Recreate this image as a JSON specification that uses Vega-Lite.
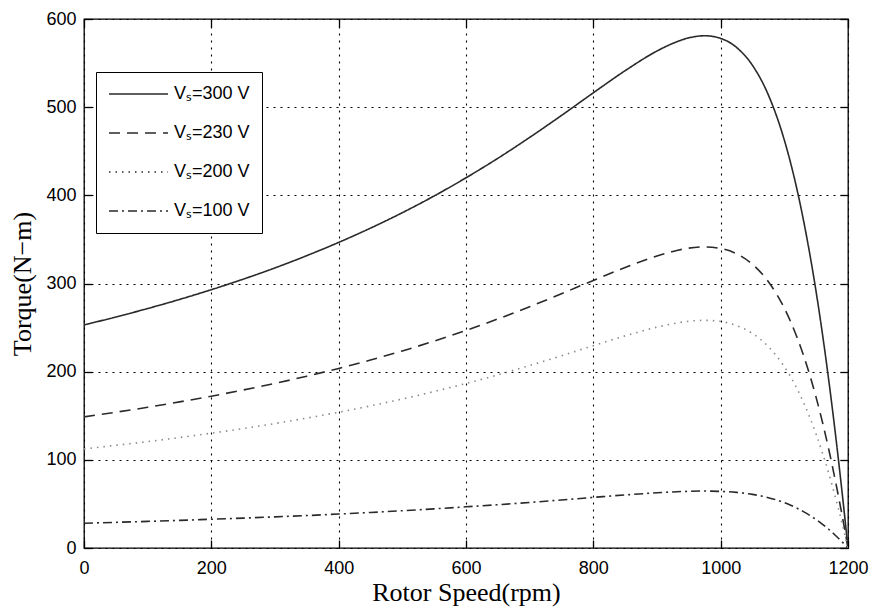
{
  "$schema": "https://vega.github.io/schema/vega-lite/v6.json",
  "width": 764,
  "height": 529,
  "autosize": "none",
  "padding": {"left": 84, "top": 19, "right": 24, "bottom": 60},
  "background": "white",
  "config": {
    "view": {"stroke": "black", "strokeWidth": 1.3},
    "axis": {
      "labelFont": "Liberation Sans",
      "labelFontSize": 18,
      "labelColor": "black",
      "titleFont": "Liberation Serif",
      "titleFontSize": 26,
      "titleFontWeight": "normal",
      "titleColor": "black",
      "tickColor": "black",
      "tickWidth": 1.3,
      "tickSize": -8,
      "domain": false,
      "gridColor": "black",
      "gridDash": [2, 5],
      "gridWidth": 1.1,
      "gridOpacity": 1
    },
    "legend": {
      "orient": "none",
      "legendX": 12,
      "legendY": 53,
      "strokeColor": "black",
      "fillColor": "white",
      "padding": 12,
      "symbolType": "stroke",
      "symbolSize": 3481,
      "symbolStrokeWidth": 1.6,
      "clipHeight": 20,
      "rowPadding": 19,
      "labelOffset": 5,
      "labelFont": "Liberation Sans",
      "labelFontSize": 18,
      "labelColor": "black",
      "labelLimit": 200
    }
  },
  "datasets": {
    "curves": [
      {"series": "Vₛ=300 V", "speed": 0, "torque": 253.0},
      {"series": "Vₛ=300 V", "speed": 50, "torque": 262.0},
      {"series": "Vₛ=300 V", "speed": 100, "torque": 271.6},
      {"series": "Vₛ=300 V", "speed": 150, "torque": 281.9},
      {"series": "Vₛ=300 V", "speed": 200, "torque": 293.0},
      {"series": "Vₛ=300 V", "speed": 250, "torque": 304.9},
      {"series": "Vₛ=300 V", "speed": 300, "torque": 317.7},
      {"series": "Vₛ=300 V", "speed": 350, "torque": 331.6},
      {"series": "Vₛ=300 V", "speed": 400, "torque": 346.6},
      {"series": "Vₛ=300 V", "speed": 450, "torque": 362.8},
      {"series": "Vₛ=300 V", "speed": 500, "torque": 380.3},
      {"series": "Vₛ=300 V", "speed": 550, "torque": 399.3},
      {"series": "Vₛ=300 V", "speed": 600, "torque": 419.9},
      {"series": "Vₛ=300 V", "speed": 650, "torque": 442.0},
      {"series": "Vₛ=300 V", "speed": 700, "torque": 465.7},
      {"series": "Vₛ=300 V", "speed": 750, "torque": 490.6},
      {"series": "Vₛ=300 V", "speed": 800, "torque": 516.3},
      {"series": "Vₛ=300 V", "speed": 850, "torque": 541.4},
      {"series": "Vₛ=300 V", "speed": 900, "torque": 563.7},
      {"series": "Vₛ=300 V", "speed": 925, "torque": 572.4},
      {"series": "Vₛ=300 V", "speed": 950, "torque": 578.6},
      {"series": "Vₛ=300 V", "speed": 975, "torque": 581.0},
      {"series": "Vₛ=300 V", "speed": 1000, "torque": 578.0},
      {"series": "Vₛ=300 V", "speed": 1025, "torque": 567.7},
      {"series": "Vₛ=300 V", "speed": 1050, "torque": 547.4},
      {"series": "Vₛ=300 V", "speed": 1075, "torque": 513.7},
      {"series": "Vₛ=300 V", "speed": 1100, "torque": 462.7},
      {"series": "Vₛ=300 V", "speed": 1110, "torque": 436.4},
      {"series": "Vₛ=300 V", "speed": 1120, "torque": 406.3},
      {"series": "Vₛ=300 V", "speed": 1130, "torque": 372.0},
      {"series": "Vₛ=300 V", "speed": 1140, "torque": 333.4},
      {"series": "Vₛ=300 V", "speed": 1150, "torque": 290.2},
      {"series": "Vₛ=300 V", "speed": 1160, "torque": 242.1},
      {"series": "Vₛ=300 V", "speed": 1170, "torque": 189.0},
      {"series": "Vₛ=300 V", "speed": 1175, "torque": 160.6},
      {"series": "Vₛ=300 V", "speed": 1180, "torque": 130.9},
      {"series": "Vₛ=300 V", "speed": 1185, "torque": 100.0},
      {"series": "Vₛ=300 V", "speed": 1190, "torque": 67.8},
      {"series": "Vₛ=300 V", "speed": 1195, "torque": 34.5},
      {"series": "Vₛ=300 V", "speed": 1200, "torque": 0},

      {"series": "Vₛ=230 V", "speed": 0, "torque": 148.7},
      {"series": "Vₛ=230 V", "speed": 50, "torque": 154.0},
      {"series": "Vₛ=230 V", "speed": 100, "torque": 159.6},
      {"series": "Vₛ=230 V", "speed": 150, "torque": 165.7},
      {"series": "Vₛ=230 V", "speed": 200, "torque": 172.2},
      {"series": "Vₛ=230 V", "speed": 250, "torque": 179.2},
      {"series": "Vₛ=230 V", "speed": 300, "torque": 186.7},
      {"series": "Vₛ=230 V", "speed": 350, "torque": 194.9},
      {"series": "Vₛ=230 V", "speed": 400, "torque": 203.7},
      {"series": "Vₛ=230 V", "speed": 450, "torque": 213.2},
      {"series": "Vₛ=230 V", "speed": 500, "torque": 223.5},
      {"series": "Vₛ=230 V", "speed": 550, "torque": 234.7},
      {"series": "Vₛ=230 V", "speed": 600, "torque": 246.8},
      {"series": "Vₛ=230 V", "speed": 650, "torque": 259.8},
      {"series": "Vₛ=230 V", "speed": 700, "torque": 273.7},
      {"series": "Vₛ=230 V", "speed": 750, "torque": 288.4},
      {"series": "Vₛ=230 V", "speed": 800, "torque": 303.5},
      {"series": "Vₛ=230 V", "speed": 850, "torque": 318.2},
      {"series": "Vₛ=230 V", "speed": 900, "torque": 331.3},
      {"series": "Vₛ=230 V", "speed": 925, "torque": 336.4},
      {"series": "Vₛ=230 V", "speed": 950, "torque": 340.1},
      {"series": "Vₛ=230 V", "speed": 975, "torque": 341.5},
      {"series": "Vₛ=230 V", "speed": 1000, "torque": 339.7},
      {"series": "Vₛ=230 V", "speed": 1025, "torque": 333.7},
      {"series": "Vₛ=230 V", "speed": 1050, "torque": 321.7},
      {"series": "Vₛ=230 V", "speed": 1075, "torque": 301.9},
      {"series": "Vₛ=230 V", "speed": 1100, "torque": 272.0},
      {"series": "Vₛ=230 V", "speed": 1110, "torque": 256.5},
      {"series": "Vₛ=230 V", "speed": 1120, "torque": 238.8},
      {"series": "Vₛ=230 V", "speed": 1130, "torque": 218.7},
      {"series": "Vₛ=230 V", "speed": 1140, "torque": 196.0},
      {"series": "Vₛ=230 V", "speed": 1150, "torque": 170.6},
      {"series": "Vₛ=230 V", "speed": 1160, "torque": 142.3},
      {"series": "Vₛ=230 V", "speed": 1170, "torque": 111.1},
      {"series": "Vₛ=230 V", "speed": 1175, "torque": 94.4},
      {"series": "Vₛ=230 V", "speed": 1180, "torque": 76.9},
      {"series": "Vₛ=230 V", "speed": 1185, "torque": 58.8},
      {"series": "Vₛ=230 V", "speed": 1190, "torque": 39.9},
      {"series": "Vₛ=230 V", "speed": 1195, "torque": 20.3},
      {"series": "Vₛ=230 V", "speed": 1200, "torque": 0},

      {"series": "Vₛ=200 V", "speed": 0, "torque": 112.4},
      {"series": "Vₛ=200 V", "speed": 50, "torque": 116.4},
      {"series": "Vₛ=200 V", "speed": 100, "torque": 120.7},
      {"series": "Vₛ=200 V", "speed": 150, "torque": 125.3},
      {"series": "Vₛ=200 V", "speed": 200, "torque": 130.2},
      {"series": "Vₛ=200 V", "speed": 250, "torque": 135.5},
      {"series": "Vₛ=200 V", "speed": 300, "torque": 141.2},
      {"series": "Vₛ=200 V", "speed": 350, "torque": 147.4},
      {"series": "Vₛ=200 V", "speed": 400, "torque": 154.0},
      {"series": "Vₛ=200 V", "speed": 450, "torque": 161.2},
      {"series": "Vₛ=200 V", "speed": 500, "torque": 169.0},
      {"series": "Vₛ=200 V", "speed": 550, "torque": 177.5},
      {"series": "Vₛ=200 V", "speed": 600, "torque": 186.6},
      {"series": "Vₛ=200 V", "speed": 650, "torque": 196.4},
      {"series": "Vₛ=200 V", "speed": 700, "torque": 207.0},
      {"series": "Vₛ=200 V", "speed": 750, "torque": 218.0},
      {"series": "Vₛ=200 V", "speed": 800, "torque": 229.5},
      {"series": "Vₛ=200 V", "speed": 850, "torque": 240.6},
      {"series": "Vₛ=200 V", "speed": 900, "torque": 250.5},
      {"series": "Vₛ=200 V", "speed": 925, "torque": 254.4},
      {"series": "Vₛ=200 V", "speed": 950, "torque": 257.2},
      {"series": "Vₛ=200 V", "speed": 975, "torque": 258.2},
      {"series": "Vₛ=200 V", "speed": 1000, "torque": 256.9},
      {"series": "Vₛ=200 V", "speed": 1025, "torque": 252.3},
      {"series": "Vₛ=200 V", "speed": 1050, "torque": 243.3},
      {"series": "Vₛ=200 V", "speed": 1075, "torque": 228.3},
      {"series": "Vₛ=200 V", "speed": 1100, "torque": 205.6},
      {"series": "Vₛ=200 V", "speed": 1110, "torque": 194.0},
      {"series": "Vₛ=200 V", "speed": 1120, "torque": 180.6},
      {"series": "Vₛ=200 V", "speed": 1130, "torque": 165.3},
      {"series": "Vₛ=200 V", "speed": 1140, "torque": 148.2},
      {"series": "Vₛ=200 V", "speed": 1150, "torque": 129.0},
      {"series": "Vₛ=200 V", "speed": 1160, "torque": 107.6},
      {"series": "Vₛ=200 V", "speed": 1170, "torque": 84.0},
      {"series": "Vₛ=200 V", "speed": 1175, "torque": 71.4},
      {"series": "Vₛ=200 V", "speed": 1180, "torque": 58.2},
      {"series": "Vₛ=200 V", "speed": 1185, "torque": 44.4},
      {"series": "Vₛ=200 V", "speed": 1190, "torque": 30.1},
      {"series": "Vₛ=200 V", "speed": 1195, "torque": 15.3},
      {"series": "Vₛ=200 V", "speed": 1200, "torque": 0},

      {"series": "Vₛ=100 V", "speed": 0, "torque": 28.1},
      {"series": "Vₛ=100 V", "speed": 50, "torque": 29.1},
      {"series": "Vₛ=100 V", "speed": 100, "torque": 30.2},
      {"series": "Vₛ=100 V", "speed": 150, "torque": 31.3},
      {"series": "Vₛ=100 V", "speed": 200, "torque": 32.6},
      {"series": "Vₛ=100 V", "speed": 250, "torque": 33.9},
      {"series": "Vₛ=100 V", "speed": 300, "torque": 35.3},
      {"series": "Vₛ=100 V", "speed": 350, "torque": 36.8},
      {"series": "Vₛ=100 V", "speed": 400, "torque": 38.5},
      {"series": "Vₛ=100 V", "speed": 450, "torque": 40.3},
      {"series": "Vₛ=100 V", "speed": 500, "torque": 42.3},
      {"series": "Vₛ=100 V", "speed": 550, "torque": 44.4},
      {"series": "Vₛ=100 V", "speed": 600, "torque": 46.7},
      {"series": "Vₛ=100 V", "speed": 650, "torque": 49.1},
      {"series": "Vₛ=100 V", "speed": 700, "torque": 51.7},
      {"series": "Vₛ=100 V", "speed": 750, "torque": 54.5},
      {"series": "Vₛ=100 V", "speed": 800, "torque": 57.4},
      {"series": "Vₛ=100 V", "speed": 850, "torque": 60.2},
      {"series": "Vₛ=100 V", "speed": 900, "torque": 62.6},
      {"series": "Vₛ=100 V", "speed": 925, "torque": 63.6},
      {"series": "Vₛ=100 V", "speed": 950, "torque": 64.3},
      {"series": "Vₛ=100 V", "speed": 975, "torque": 64.6},
      {"series": "Vₛ=100 V", "speed": 1000, "torque": 64.2},
      {"series": "Vₛ=100 V", "speed": 1025, "torque": 63.1},
      {"series": "Vₛ=100 V", "speed": 1050, "torque": 60.8},
      {"series": "Vₛ=100 V", "speed": 1075, "torque": 57.1},
      {"series": "Vₛ=100 V", "speed": 1100, "torque": 51.4},
      {"series": "Vₛ=100 V", "speed": 1110, "torque": 48.5},
      {"series": "Vₛ=100 V", "speed": 1120, "torque": 45.1},
      {"series": "Vₛ=100 V", "speed": 1130, "torque": 41.3},
      {"series": "Vₛ=100 V", "speed": 1140, "torque": 37.0},
      {"series": "Vₛ=100 V", "speed": 1150, "torque": 32.2},
      {"series": "Vₛ=100 V", "speed": 1160, "torque": 26.9},
      {"series": "Vₛ=100 V", "speed": 1170, "torque": 21.0},
      {"series": "Vₛ=100 V", "speed": 1175, "torque": 17.8},
      {"series": "Vₛ=100 V", "speed": 1180, "torque": 14.5},
      {"series": "Vₛ=100 V", "speed": 1185, "torque": 11.1},
      {"series": "Vₛ=100 V", "speed": 1190, "torque": 7.5},
      {"series": "Vₛ=100 V", "speed": 1195, "torque": 3.8},
      {"series": "Vₛ=100 V", "speed": 1200, "torque": 0}
    ]
  },
  "data": {"name": "curves"},
  "layer": [
    {
      "transform": [{"filter": "datum.series != 'Vₛ=200 V'"}],
      "mark": {"type": "line", "color": "#2a2a2a", "strokeWidth": 1.6, "clip": true, "interpolate": "monotone"},
      "encoding": {
        "x": {
          "field": "speed", "type": "quantitative",
          "scale": {"domain": [0, 1200], "nice": false, "zero": false},
          "axis": {
            "orient": "bottom",
            "values": [0, 200, 400, 600, 800, 1000, 1200],
            "format": "d",
            "title": "Rotor Speed(rpm)",
            "grid": true,
            "labelPadding": 19,
            "titlePadding": 2,
            "labelFlush": false
          }
        },
        "y": {
          "field": "torque", "type": "quantitative",
          "scale": {"domain": [0, 600], "nice": false, "zero": false},
          "axis": {
            "orient": "left",
            "values": [0, 100, 200, 300, 400, 500, 600],
            "format": "d",
            "title": "Torque(N−m)",
            "grid": true,
            "labelPadding": 16,
            "titlePadding": 10,
            "labelFlush": false
          }
        },
        "strokeDash": {
          "field": "series", "type": "nominal",
          "scale": {
            "domain": ["Vₛ=300 V", "Vₛ=230 V", "Vₛ=200 V", "Vₛ=100 V"],
            "range": [[1, 0], [11, 7], [1.5, 5], [9, 4, 2, 4]]
          },
          "legend": {"title": null}
        }
      }
    },
    {
      "transform": [{"filter": "datum.series == 'Vₛ=200 V'"}],
      "mark": {"type": "line", "color": "#8a8a8a", "strokeWidth": 1.6, "clip": true, "interpolate": "monotone"},
      "encoding": {
        "x": {"field": "speed", "type": "quantitative", "axis": null},
        "y": {"field": "torque", "type": "quantitative", "axis": null},
        "strokeDash": {"field": "series", "type": "nominal", "legend": {"title": null}}
      }
    },
    {
      "mark": {"type": "line", "opacity": 0},
      "encoding": {
        "x": {
          "field": "speed", "type": "quantitative",
          "axis": {
            "orient": "top",
            "values": [0, 200, 400, 600, 800, 1000, 1200],
            "labels": false,
            "title": null,
            "grid": false
          }
        },
        "y": {
          "field": "torque", "type": "quantitative",
          "axis": {
            "orient": "right",
            "values": [0, 100, 200, 300, 400, 500, 600],
            "labels": false,
            "title": null,
            "grid": false
          }
        },
        "detail": {"field": "series"}
      }
    }
  ],
  "resolve": {"axis": {"x": "independent", "y": "independent"}}
}
